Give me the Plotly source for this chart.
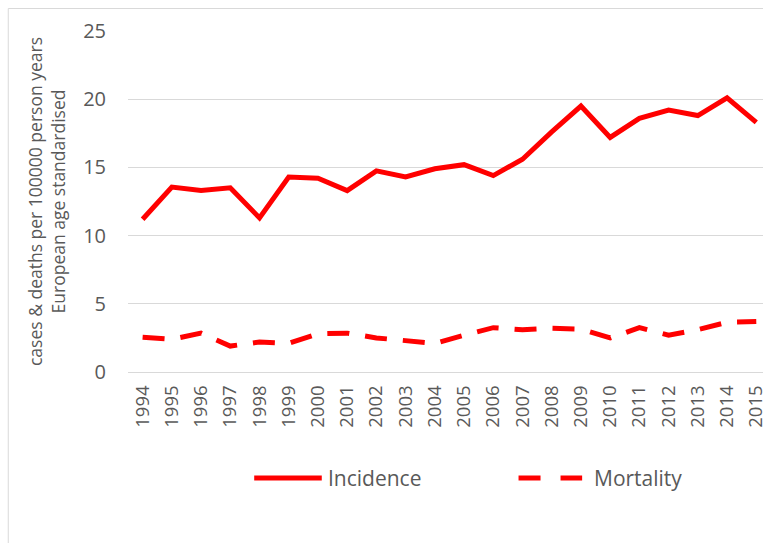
import plotly.graph_objects as go

years = [str(y) for y in range(1994, 2016)]
incidence = [11.2, 13.56, 13.3, 13.5, 11.3, 14.3, 14.2, 13.3, 14.75, 14.3, 14.9, 15.2, 14.4,
             15.6, 17.6, 19.5, 17.2, 18.6, 19.2, 18.8, 20.1, 18.3]
mortality = [2.55, 2.4, 2.85, 1.9, 2.2, 2.1, 2.8, 2.85, 2.5, 2.3, 2.1, 2.7, 3.25,
             3.1, 3.2, 3.15, 2.5, 3.25, 2.7, 3.1, 3.65, 3.7]
y_ticks = [0, 5, 10, 15, 20, 25]

RED = "#ff0000"
GREY = "#595959"
GRID = "#d9d9d9"
FONT = "Open Sans"

W, H = 767, 543
L, R, T, B = 128, 0, 31, 171
pw, ph = W - L - R, H - T - B

def px(x):
    return (x - L) / pw

def py(y):
    return (H - B - y) / ph

fig = go.Figure()
fig.add_trace(go.Scatter(x=years, y=incidence, mode="lines", name="Incidence",
                         line=dict(color=RED, width=5)))
fig.add_trace(go.Scatter(x=years, y=mortality, mode="lines", name="Mortality",
                         line=dict(color=RED, width=5, dash="22px,16px")))

fig.update_layout(
    width=W, height=H,
    margin=dict(l=L, r=R, t=T, b=B),
    paper_bgcolor="white", plot_bgcolor="white",
    showlegend=False,
    font=dict(family=FONT, color=GREY),
    xaxis=dict(type="category", range=[-0.5, 21.23], tickangle=-90,
               tickfont=dict(size=18.5, color=GREY), showgrid=False,
               showline=True, linecolor=GRID, linewidth=1, ticks="",
               ticklabelstandoff=5),
    yaxis=dict(range=[0, 25], tickvals=y_ticks, tickfont=dict(size=20, color=GREY),
               showgrid=True, gridcolor=GRID, gridwidth=1, zeroline=True,
               zerolinecolor=GRID, zerolinewidth=1, ticks="", ticklabelstandoff=21),
)

fig.add_annotation(xref="paper", yref="paper", x=px(46), y=0.5, xanchor="center",
                   yanchor="middle", textangle=-90, showarrow=False,
                   text="cases & deaths per 100000 person years<br>European age standardised",
                   font=dict(size=17.5, color=GREY, family=FONT))

# legend
ly = py(478)
fig.add_shape(type="line", xref="paper", yref="paper", x0=px(255), x1=px(323), y0=ly, y1=ly,
              line=dict(color=RED, width=5))
fig.add_annotation(xref="paper", yref="paper", x=px(327), y=ly, xanchor="left", yanchor="middle",
                   text="Incidence", showarrow=False, font=dict(size=21, color=GREY, family=FONT))
fig.add_shape(type="line", xref="paper", yref="paper", x0=px(521), x1=px(585), y0=ly, y1=ly,
              line=dict(color=RED, width=5, dash="22px,20px"))
fig.add_annotation(xref="paper", yref="paper", x=px(595), y=ly, xanchor="left", yanchor="middle",
                   text="Mortality", showarrow=False, font=dict(size=21, color=GREY, family=FONT))

# chart border
fig.add_shape(type="line", xref="paper", yref="paper", x0=px(7.5), x1=px(7.5), y0=py(8.5), y1=py(543),
              line=dict(color=GRID, width=1))
fig.add_shape(type="line", xref="paper", yref="paper", x0=px(7.5), x1=px(767), y0=py(8.5), y1=py(8.5),
              line=dict(color=GRID, width=1))

fig.write_html("out.html", config={"displayModeBar": False},
               post_script="document.body.style.margin='0';")
